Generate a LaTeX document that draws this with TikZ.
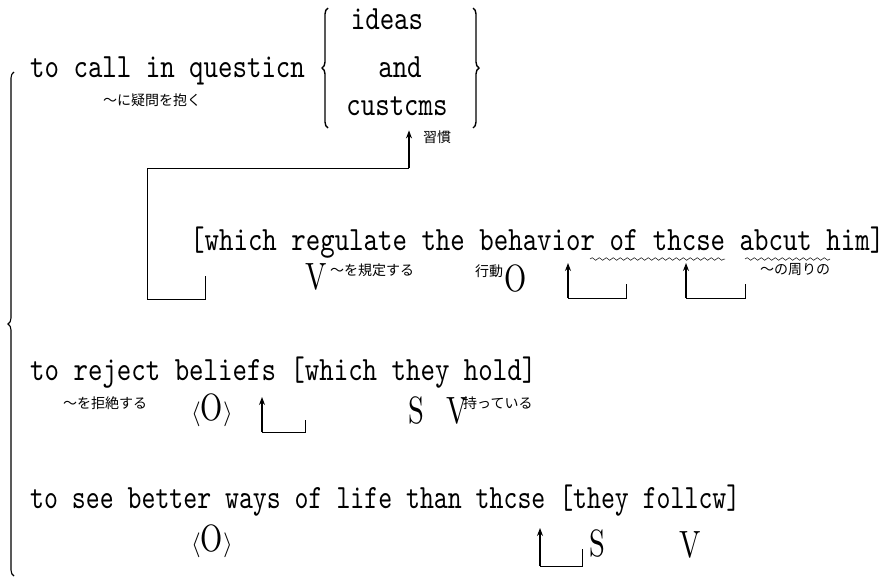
\documentclass[tikz,border=0pt]{standalone}
\usepackage{fontspec}
\newfontfamily\jpfont{Noto Sans CJK JP}
\newfontfamily\engfam{lmmono10-regular.otf}[FakeStretch=0.81]
\newfontfamily\engnfam{lmmono10-regular.otf}[FakeStretch=0.78]
\newfontfamily\rolefam{lmroman10-regular.otf}[FakeStretch=0.75]
\usetikzlibrary{arrows.meta,decorations.pathreplacing,decorations.pathmorphing}

\newcommand{\engfont}{\engfam\fontsize{34}{38}\selectfont}
\newcommand{\engnfont}{\engnfam\fontsize{34}{38}\selectfont}
\newcommand{\rolefont}{\rolefam\fontsize{38}{40}\selectfont}

\tikzset{
  eng/.style={anchor=base west, inner sep=0pt, font=\engfont},
  gloss/.style={inner sep=0pt, font=\jpfont\fontsize{14}{16}\selectfont},
  role/.style={inner sep=0pt, font=\rolefont},
  link/.style={line width=0.7pt},
  uparrow/.style={-{Stealth[length=8pt,width=6pt]}, line width=1.1pt},
  wave/.style={decorate, decoration={snake, amplitude=1.3pt, segment length=7pt}, line width=0.5pt},
  bigbrace/.style={decorate, decoration={brace, amplitude=6pt}, line width=1.4pt}
}

\begin{document}
\begin{tikzpicture}[x=1pt, y=-1pt]
  \useasboundingbox (0,0) rectangle (890,576);

  % left brace over the three items
  \draw[bigbrace, line width=1.1pt] (14,576) -- (14,72);

  % first item
  \node[eng] (call) at (30,77) {to call in questicn};
  \node[gloss] (callj) at (152,100) {～に疑問を抱く};
  \node[eng, anchor=base] (ideas) at (387,29) {ideas};
  \node[eng, anchor=base] (and) at (400,77) {and};
  \node[eng, anchor=base] (customs) at (397,115) {custcms};
  \draw[bigbrace] (328,128) -- (328,8);
  \draw[bigbrace] (473,8) -- (473,128);
  \node[gloss, anchor=west] (customsj) at (423,137) {習慣};

  % relative clause
  \node[eng] (which) at (190,250) {[which regulate the behavior of thcse abcut him]};
  \draw[wave] (590,259) -- (725,259);
  \draw[wave] (745,259) -- (830,259);
  \node[role] (v1) at (316,277) {V};
  \node[gloss, anchor=west] (v1j) at (330,270) {～を規定する};
  \node[gloss] (behj) at (489,271) {行動};
  \node[role] (o1) at (516,279) {O};
  \node[gloss, anchor=west] (aboutj) at (760,270) {～の周りの};

  \coordinate (wh) at (205,276);
  \coordinate (whk) at (147,299);
  \coordinate (cuk) at (409,168);
  \draw[link] (wh) |- (whk) |- (cuk);
  \draw[uparrow, shorten >=15pt] (cuk) -- (cuk |- customs.south);

  \coordinate (of) at (626,284);
  \coordinate (ofk) at (568,298);
  \coordinate (ofup) at (568,263);
  \draw[link] (of) |- (ofk);
  \draw[uparrow] (ofk) -- (ofup);

  \coordinate (ab) at (745,284);
  \coordinate (abk) at (686,298);
  \coordinate (abup) at (686,263);
  \draw[link] (ab) |- (abk);
  \draw[uparrow] (abk) -- (abup);

  % second item
  \node[eng] (reject) at (30,380) {to reject beliefs [which they hold]};
  \node[gloss] (rejectj) at (105,403) {～を拒絶する};
  \node[role] (o2) at (212,410) {$\langle$O$\rangle$};
  \node[role] (s2) at (416,411) {S};
  \node[role] (v2) at (457,411) {V};
  \node[gloss, anchor=west] (holdj) at (463,403) {持っている};

  \coordinate (wh2) at (305,420);
  \coordinate (wh2k) at (262,432);
  \coordinate (wh2up) at (262,397);
  \draw[link] (wh2) |- (wh2k);
  \draw[uparrow] (wh2k) -- (wh2up);

  % third item
  \node[eng, font=\engnfont] (see) at (30,508) {to see better ways of life than thcse [they follcw]};
  \node[role] (o3) at (212,541) {$\langle$O$\rangle$};
  \node[role] (s3) at (597,544) {S};
  \node[role] (v3) at (690,545) {V};

  \coordinate (th) at (582,549);
  \coordinate (thk) at (540,566);
  \coordinate (thup) at (540,528);
  \draw[link] (th) |- (thk);
  \draw[uparrow] (thk) -- (thup);
\end{tikzpicture}
\end{document}
